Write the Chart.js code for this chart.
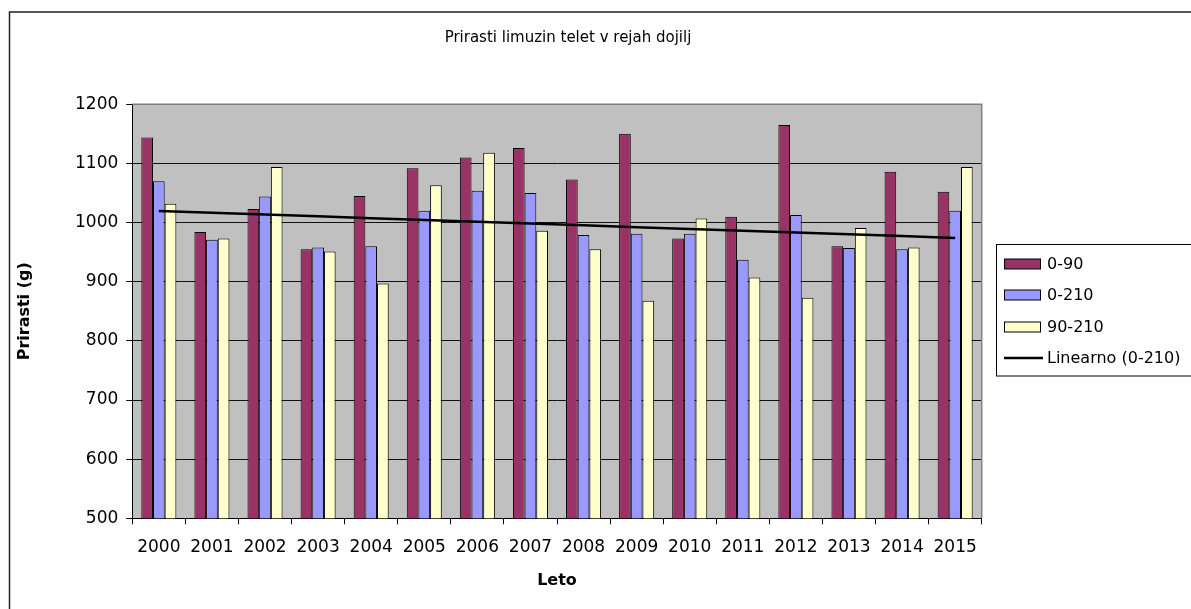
<!DOCTYPE html>
<html>
<head>
<meta charset="utf-8">
<script src="https://cdn.jsdelivr.net/npm/chart.js@4"></script>
<style>
  html, body { margin: 0; padding: 0; background: #fff; }
  canvas { display: block; }
</style>
</head>
<body>
<canvas id="c" width="1191" height="609"></canvas>
<script>
const years = ['2000', '2001', '2002', '2003', '2004', '2005', '2006', '2007',
               '2008', '2009', '2010', '2011', '2012', '2013', '2014', '2015'];
const gain0to90 = [1144, 984, 1023, 955, 1045, 1092, 1110, 1126, 1073, 1150, 973, 1010, 1165, 960, 1086, 1052];
const gain0to210 = [1070, 971, 1044, 958, 960, 1020, 1054, 1050, 979, 981, 981, 937, 1013, 957, 955, 1020];
const gain90to210 = [1032, 973, 1094, 951, 897, 1063, 1118, 986, 955, 868, 1007, 907, 873, 991, 958, 1094];
const seriesNames = ['0-90', '0-210', '90-210', 'Linearno (0-210)'];
const chartTitle = 'Prirasti limuzin telet v rejah dojilj';
const xTitle = 'Leto';
const yTitle = 'Prirasti (g)';

// least squares trend of the 0-210 series, like Excel's linear trendline
function linearTrend(values) {
    const n = values.length;
    const mx = (n - 1) / 2;
    const my = values.reduce((a, b) => a + b, 0) / n;
    let sxy = 0, sxx = 0;
    values.forEach((v, i) => { sxy += (i - mx) * (v - my); sxx += (i - mx) * (i - mx); });
    const slope = sxy / sxx;
    return values.map((v, i) => my + slope * (i - mx));
}
const trend0to210 = linearTrend(gain0to210);

const colors = ['#993366', '#9999FF', '#FFFFCC'];
const FONT = 'DejaVu Sans';
Chart.defaults.font.family = FONT;
Chart.defaults.color = '#000';

const decorPlugin = {
    id: 'decor',
    beforeDraw(chart) {
        const { ctx, chartArea: a } = chart;
        ctx.save();
        ctx.fillStyle = '#fff';
        ctx.fillRect(0, 0, chart.width, chart.height);
        ctx.fillStyle = '#C0C0C0';
        ctx.fillRect(a.left, a.top, a.right - a.left, a.bottom - a.top);
        ctx.restore();
    },
    beforeDatasetsDraw(chart) {
        const { ctx, chartArea: a } = chart;
        ctx.save();
        ctx.strokeStyle = '#808080';
        ctx.lineWidth = 1.5;
        ctx.beginPath();
        ctx.moveTo(a.left, a.top);
        ctx.lineTo(a.right, a.top);
        ctx.lineTo(a.right, a.bottom);
        ctx.stroke();
        ctx.restore();
    },
    afterDraw(chart) {
        const { ctx } = chart;
        ctx.save();
        // outer chart border
        ctx.strokeStyle = '#222';
        ctx.lineWidth = 1.5;
        ctx.strokeRect(9.5, 12, 1200, 620);

        // title
        ctx.fillStyle = '#000';
        ctx.font = '15px "' + FONT + '"';
        ctx.textAlign = 'center';
        ctx.textBaseline = 'middle';
        ctx.fillText(chartTitle, 568, 38);

        // legend box
        ctx.strokeStyle = '#000';
        ctx.lineWidth = 1;
        ctx.strokeRect(996.5, 244.5, 220, 131.5);
        const rows = [264, 295, 327, 358];
        ctx.font = '16px "' + FONT + '"';
        ctx.textAlign = 'left';
        rows.forEach((y, i) => {
            if (i < 3) {
                ctx.fillStyle = colors[i];
                ctx.fillRect(1004.5, y - 5, 36, 10);
                ctx.strokeRect(1004.5, y - 5, 36, 10);
            } else {
                ctx.strokeStyle = '#000';
                ctx.lineWidth = 2.5;
                ctx.beginPath();
                ctx.moveTo(1004, y);
                ctx.lineTo(1043, y);
                ctx.stroke();
                ctx.lineWidth = 1;
            }
            ctx.fillStyle = '#000';
            ctx.fillText(seriesNames[i], 1047, y + 1);
        });
        ctx.restore();
    }
};

const barSet = (label, data, color) => ({
    type: 'bar',
    label: label,
    data: data,
    backgroundColor: color,
    borderColor: '#000',
    borderWidth: 1,
    borderSkipped: false,
    categoryPercentage: 0.66,
    barPercentage: 1.0,
    order: 1
});

new Chart(document.getElementById('c'), {
    type: 'bar',
    data: {
        labels: years,
        datasets: [
            barSet(seriesNames[0], gain0to90, colors[0]),
            barSet(seriesNames[1], gain0to210, colors[1]),
            barSet(seriesNames[2], gain90to210, colors[2]),
            {
                type: 'line',
                label: seriesNames[3],
                data: trend0to210,
                borderColor: '#000',
                borderWidth: 2.5,
                pointRadius: 0,
                tension: 0,
                fill: false,
                order: 0
            }
        ]
    },
    options: {
        responsive: false,
        animation: false,
        events: [],
        layout: { padding: { left: 10, top: 104.3, right: 209.3, bottom: 0 } },
        plugins: {
            legend: { display: false },
            title: { display: false },
            tooltip: { enabled: false }
        },
        scales: {
            x: {
                offset: true,
                grid: {
                    offset: true,
                    drawOnChartArea: false,
                    drawTicks: true,
                    tickLength: 6,
                    color: '#000'
                },
                border: { color: '#000', width: 1 },
                ticks: { font: { size: 17 }, padding: 13, maxRotation: 0, autoSkip: false },
                title: {
                    display: true,
                    text: xTitle,
                    font: { size: 16, weight: 'bold' },
                    padding: { top: 0, bottom: 19 }
                },
                afterFit(scale) { scale.height = 90.7; }
            },
            y: {
                min: 500,
                max: 1200,
                ticks: {
                    stepSize: 100,
                    font: { size: 17 },
                    padding: 8,
                    callback: (v) => String(v)
                },
                grid: { color: '#111', lineWidth: 1, tickLength: 6, tickColor: '#000' },
                border: { color: '#000', width: 1 },
                title: {
                    display: true,
                    text: yTitle,
                    font: { size: 16, weight: 'bold' },
                    padding: { top: 5, bottom: 0 }
                },
                afterFit(scale) { scale.width = 122.3; }
            }
        }
    },
    plugins: [decorPlugin]
});
</script>
</body>
</html>
